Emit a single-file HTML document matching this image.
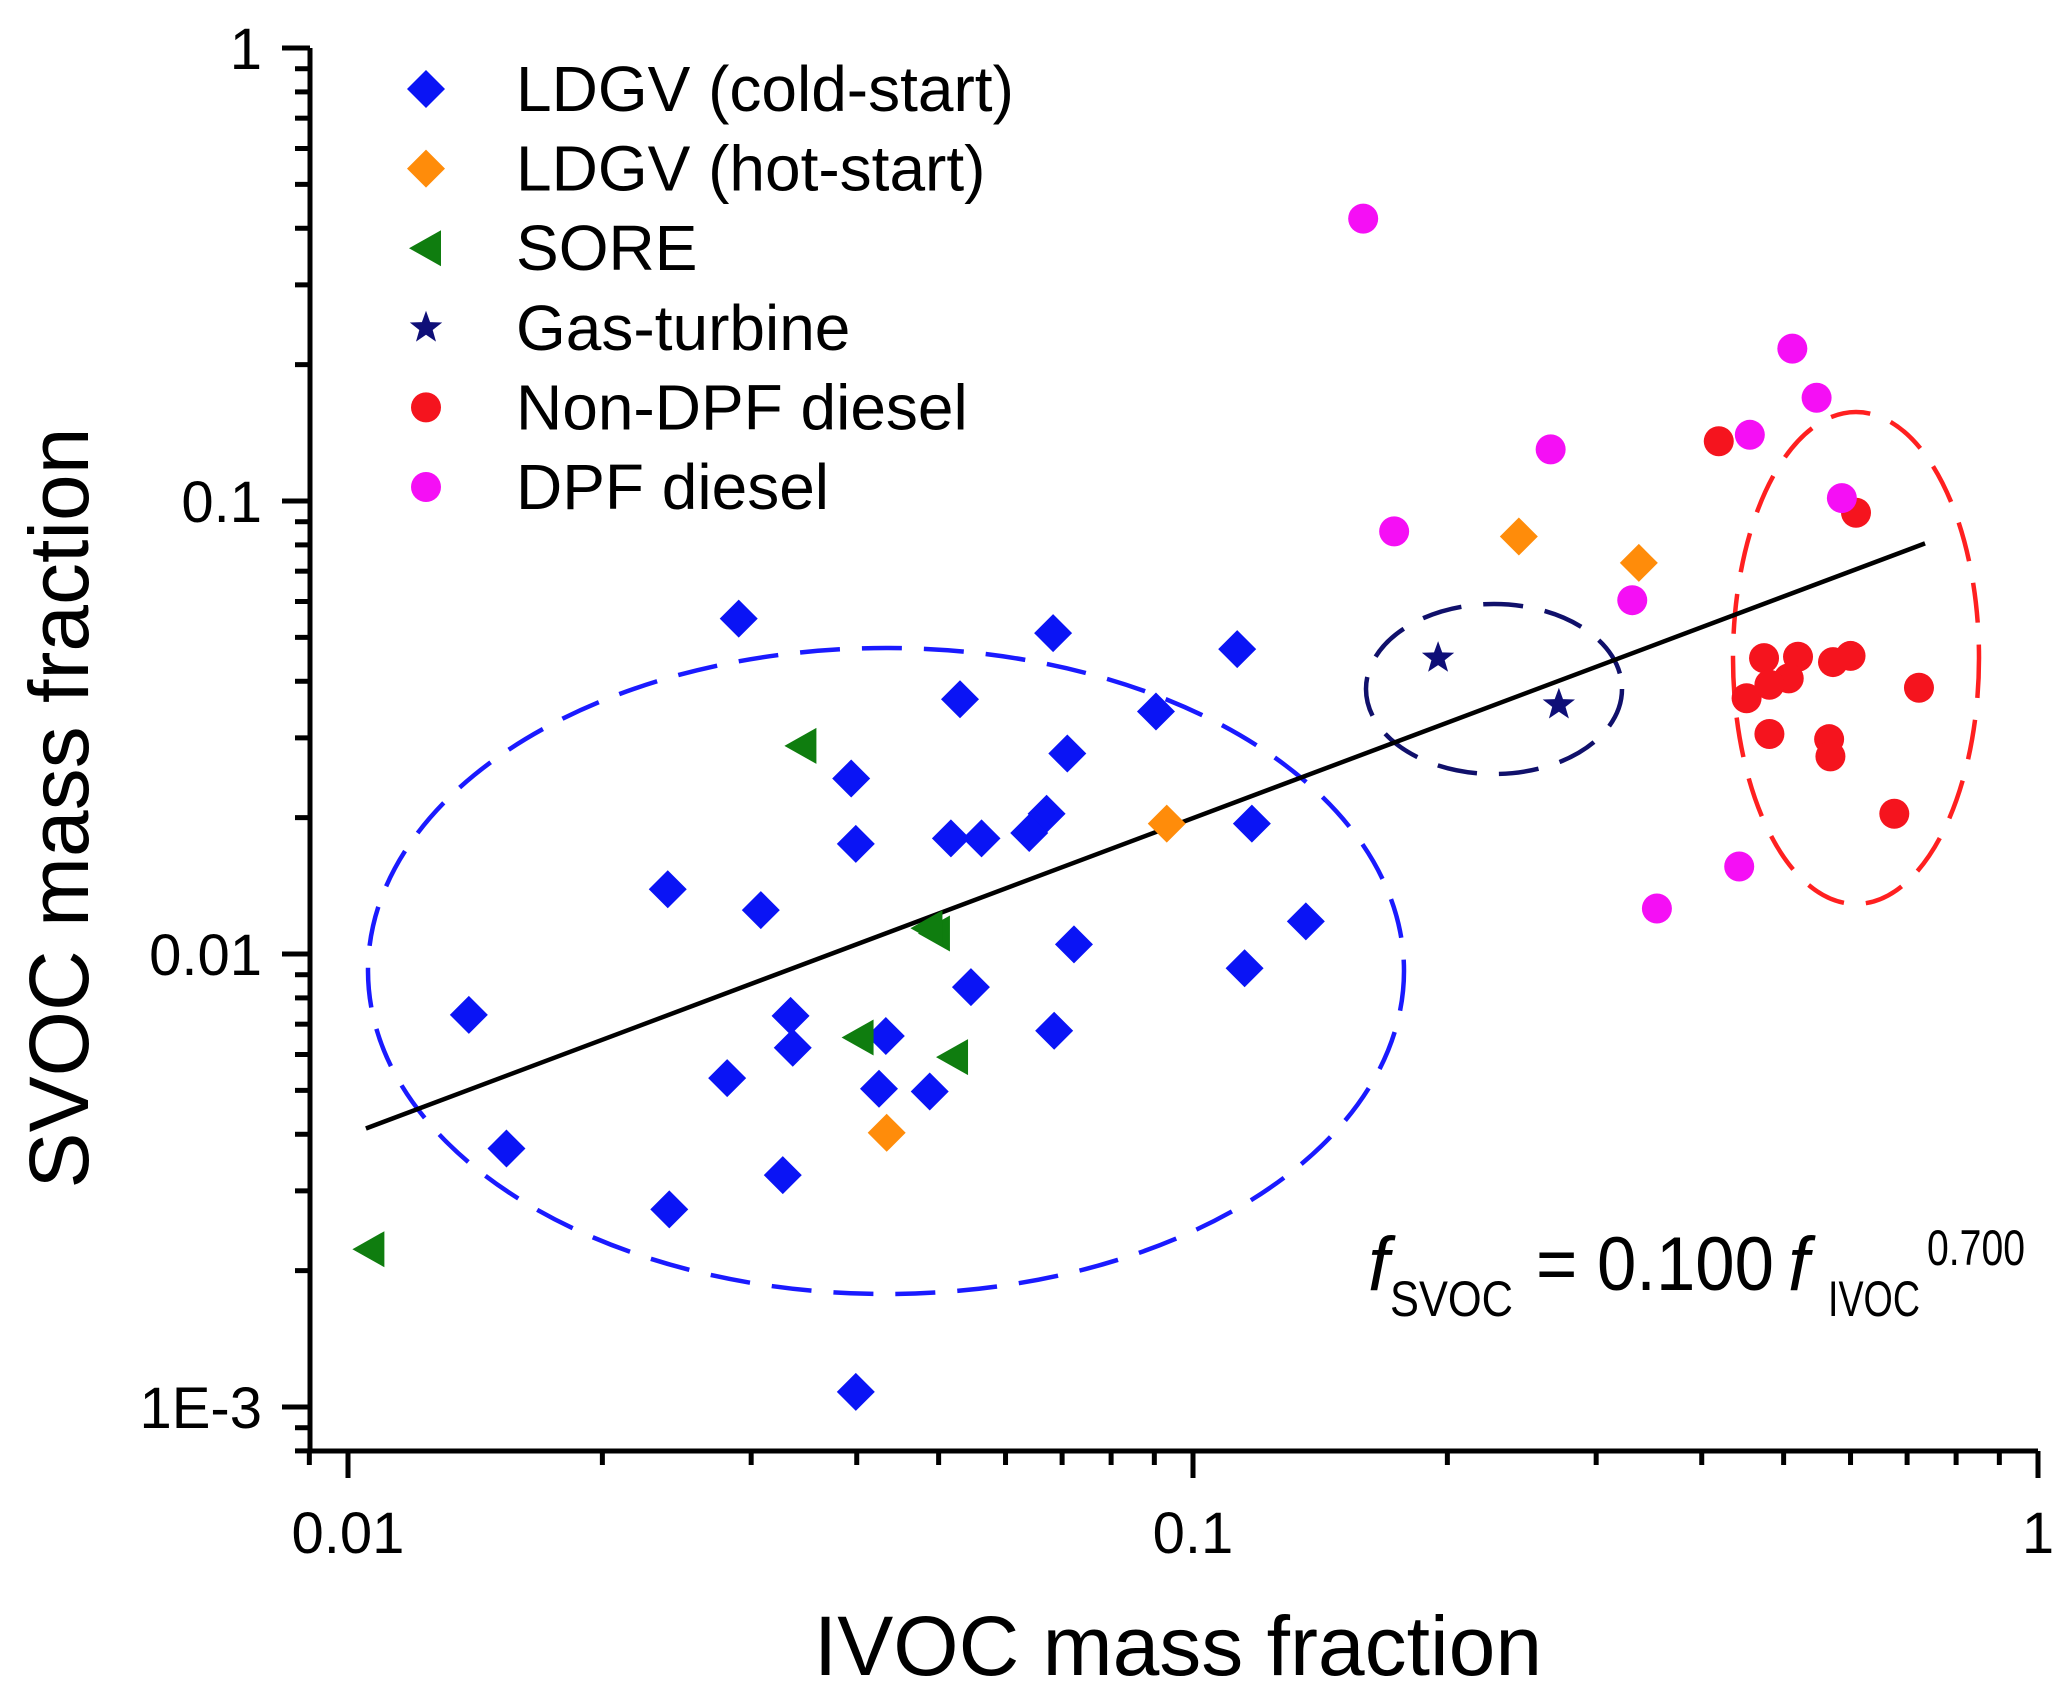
<!DOCTYPE html>
<html><head><meta charset="utf-8"><style>
html,body{margin:0;padding:0;background:#fff;}
svg text{font-family:"Liberation Sans",Arial,sans-serif;}
</style></head><body>
<svg id="chart" width="2067" height="1692" viewBox="0 0 2067 1692" xmlns="http://www.w3.org/2000/svg">
<g id="axes"></g>
<g id="ellipses"></g>
<g id="fit"></g>
<g id="marks"></g>
<g id="legend"></g>
<text x="1178" y="1675" font-size="84" text-anchor="middle">IVOC mass fraction</text>
<text transform="translate(88,808) rotate(-90)" font-size="84" text-anchor="middle">SVOC mass fraction</text>
<g>
<text x="1368" y="1290" font-size="76" font-style="italic">f</text>
<text x="1390" y="1316" font-size="50" textLength="123" lengthAdjust="spacingAndGlyphs">SVOC</text>
<text x="1536" y="1290" font-size="76" textLength="238" lengthAdjust="spacingAndGlyphs">= 0.100</text>
<text x="1788" y="1290" font-size="76" font-style="italic">f</text>
<text x="1828" y="1316" font-size="50" textLength="92" lengthAdjust="spacingAndGlyphs">IVOC</text>
<text x="1927" y="1265" font-size="50" textLength="98" lengthAdjust="spacingAndGlyphs">0.700</text>
</g>
</svg>
<script>
const ldgvColdX=[0.0290,0.0683,0.1128,0.0530,0.0904,0.0710,0.0394,0.0671,0.0640,0.0399,0.0517,0.0562,0.1174,0.0239,0.0308,0.136,0.0723,0.1151,0.0546,0.0139,0.0334,0.0433,0.0685,0.0336,0.0281,0.0425,0.0488,0.0154,0.0327,0.0240,0.0399];
const ldgvColdY=[0.0550,0.0511,0.0471,0.0365,0.0343,0.0277,0.0244,0.0204,0.0185,0.0175,0.0180,0.0180,0.0194,0.0139,0.0125,0.0118,0.0105,0.0093,0.00845,0.00734,0.00730,0.00659,0.00677,0.00621,0.00532,0.00504,0.00497,0.00372,0.00325,0.00273,0.00108];
const ldgvHotX=[0.243,0.337,0.0931,0.0434];
const ldgvHotY=[0.0835,0.0730,0.0194,0.00403];
const soreX=[0.0344,0.0495,0.0485,0.0402,0.0520,0.0106];
const soreY=[0.0288,0.0111,0.0114,0.00654,0.00592,0.00223];
const turbineX=[0.195,0.271];
const turbineY=[0.0450,0.0355];
const nonDpfX=[0.419,0.609,0.474,0.520,0.600,0.572,0.507,0.481,0.452,0.723,0.481,0.566,0.568,0.676];
const nonDpfY=[0.1355,0.0942,0.0450,0.0453,0.0455,0.0441,0.0406,0.0393,0.0367,0.0387,0.0306,0.0298,0.0273,0.0204];
const dpfX=[0.159,0.512,0.547,0.456,0.265,0.173,0.586,0.331,0.443,0.354];
const dpfY=[0.420,0.217,0.169,0.140,0.130,0.0857,0.1015,0.0604,0.0156,0.0126];
const xTickLabels=["0.01","0.1","1"];
const yTickLabels=["1E-3","0.01","0.1","1"];
const fitA=0.100, fitB=0.700, fitXMin=0.0105, fitXMax=0.735;

const NS="http://www.w3.org/2000/svg";
const X0=348, XD=845, Y0=48, YD=453;
function sx(v){return X0+(Math.log10(v)+2)*XD;}
function sy(v){return Y0-Math.log10(v)*YD;}
function mk(tag,attrs,parent){const e=document.createElementNS(NS,tag);for(const k in attrs)e.setAttribute(k,attrs[k]);parent.appendChild(e);return e;}
const axes=document.getElementById('axes');
const AXL=310, AXB=1451, AXR=2038, AXT=48;
let a=mk('path',{d:`M${AXL},${AXT} V${AXB} H${AXR}`,fill:'none',stroke:'#000','stroke-width':5},axes);


for(let d=-2;d<=0;d++){
  for(let m=1;m<=9;m++){
    const v=Math.pow(10,d)*m; if(v>1.0001)break;
    const x=sx(v); const len=m===1?27:14;
    const t=mk('line',{x1:x,y1:AXB,x2:x,y2:AXB+len,stroke:'#000','stroke-width':5},axes);
    
    
  }
}
let t0=mk('line',{x1:sx(0.009),y1:AXB,x2:sx(0.009),y2:AXB+14,stroke:'#000','stroke-width':5},axes);


xTickLabels.forEach(s=>{
  const tx=mk('text',{x:sx(parseFloat(s)),y:1553,'font-size':58,'text-anchor':'middle'},axes);
  tx.textContent=s;
  
  
});
for(let d=-4;d<=-1;d++){
  for(let m=1;m<=9;m++){
    const v=Math.pow(10,d)*m; const y=sy(v);
    if(y>AXB+1||y<AXT-1)continue;
    const len=m===1?28:15;
    const t=mk('line',{x1:AXL,y1:y,x2:AXL-len,y2:y,stroke:'#000','stroke-width':5},axes);
    
    
  }
}
let t1=mk('line',{x1:AXL,y1:sy(1),x2:AXL-28,y2:sy(1),stroke:'#000','stroke-width':5},axes);


yTickLabels.forEach(s=>{
  const tx=mk('text',{x:262,y:sy(parseFloat(s))+21,'font-size':58,'text-anchor':'end'},axes);
  tx.textContent=s;
  
  
});
const eg=document.getElementById('ellipses');
[[886,971,518,323,'#1a1aff','ldgv-cluster-ellipse'],[1494,689,128,85,'#10106b','turbine-cluster-ellipse'],[1856,658,123,246,'#ff2020','diesel-cluster-ellipse']].forEach(e=>{
  const el=mk('ellipse',{cx:e[0],cy:e[1],rx:e[2],ry:e[3],fill:'none',stroke:e[4],'stroke-width':4.5,'stroke-dasharray':'40 22'},eg);
  
  
});
const fg=document.getElementById('fit');
let fl=mk('line',{x1:sx(fitXMin),y1:sy(fitA*Math.pow(fitXMin,fitB)),x2:sx(fitXMax),y2:sy(fitA*Math.pow(fitXMax,fitB)),stroke:'#000','stroke-width':4.5},fg);


function shape(kind,x,y,color,parent){
  let e;
  if(kind==='diamond'){const r=19;e=mk('polygon',{points:`${x},${y-r} ${x+r},${y} ${x},${y+r} ${x-r},${y}`,fill:color},parent);}
  else if(kind==='circle'){e=mk('circle',{cx:x,cy:y,r:15,fill:color},parent);}
  else if(kind==='tri'){e=mk('polygon',{points:`${x-17},${y} ${x+15},${y-18} ${x+15},${y+18}`,fill:color},parent);}
  else {let p=[];for(let i=0;i<10;i++){const r=i%2?7:17;const ang=-Math.PI/2+i*Math.PI/5;p.push((x+r*Math.cos(ang)).toFixed(1)+','+(y+r*Math.sin(ang)).toFixed(1));}e=mk('polygon',{points:p.join(' '),fill:color},parent);}
  return e;
}
const mg=document.getElementById('marks');
const series=[
 [ldgvColdX,ldgvColdY,'diamond','#0a14f5','ldgv-cold-point'],
 [ldgvHotX,ldgvHotY,'diamond','#ff8c0a','ldgv-hot-point'],
 [soreX,soreY,'tri','#0f7d0f','sore-point'],
 [turbineX,turbineY,'star','#0f0f78','turbine-point'],
 [nonDpfX,nonDpfY,'circle','#f5141e','non-dpf-point'],
 [dpfX,dpfY,'circle','#f50ff5','dpf-point']
];
series.forEach(s=>{
  s[0].forEach((xv,i)=>{
    const e=shape(s[2],sx(xv),sy(s[1][i]),s[3],mg);
    
    
  });
});
const lg=document.getElementById('legend');
const legendLabels=['LDGV (cold-start)','LDGV (hot-start)','SORE','Gas-turbine','Non-DPF diesel','DPF diesel'];
series.forEach((s,i)=>{
  const y=89+i*79.6;
  const e=shape(s[2],426,y,s[3],lg);
  
  
  const tx=mk('text',{x:516,y:y+22,'font-size':64},lg);
  tx.textContent=legendLabels[i];
  
  
});
</script>
</body></html>
